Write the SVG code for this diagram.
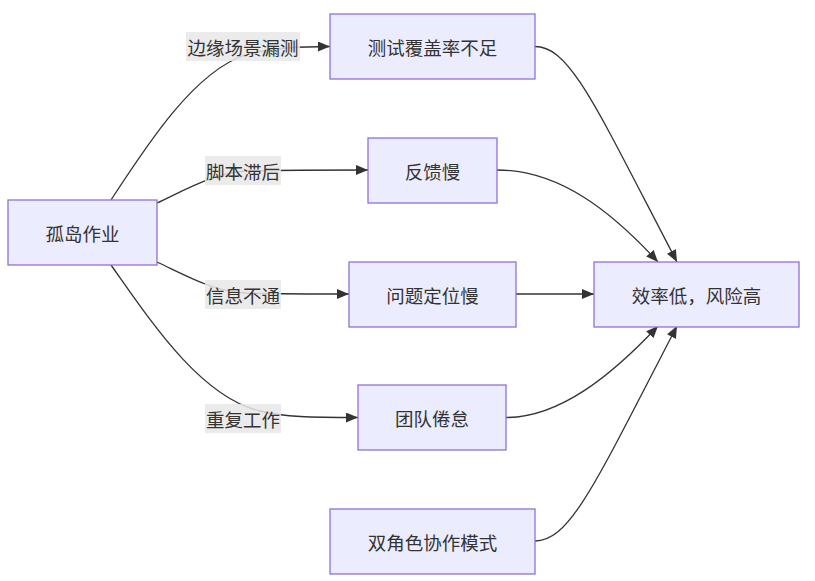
<svg xmlns="http://www.w3.org/2000/svg" width="815" height="581" viewBox="0 0 815 581">
<style>
.node rect{fill:#ECECFF;stroke:#9370DB;stroke-width:1.3}
.node text,.lbl text{font-family:"Noto Sans CJK SC","Liberation Sans",sans-serif;font-size:18.5px;fill:#333;text-anchor:middle;dominant-baseline:central}
.edge{fill:none;stroke:#333;stroke-width:1.3;marker-end:url(#arr)}
.lbl rect{fill:#e8e8e8;fill-opacity:0.85}
</style>
<defs>
<marker id="arr" viewBox="0 0 12 10" refX="12" refY="5" markerWidth="12" markerHeight="10" markerUnits="userSpaceOnUse" orient="auto">
<path d="M0,0 L12,5 L0,10 z" fill="#333"/>
</marker>
</defs>
<g id="connectors">
<path class="edge" d="M111,200 C150,140 195,72 245,55 C268,48 295,46.5 330,46.5"/>
<path class="edge" d="M157,203 C185,190 212,174 245,171 C280,170 320,170 368,170"/>
<path class="edge" d="M157,262 C185,275 212,291 245,293 C280,294 310,294 349,294"/>
<path class="edge" d="M111,265 C150,320 200,397 260,411 C285,417 310,417.5 358,417.5"/>
<path class="edge" d="M535,46.5 C570,46.5 595,105 677,262"/>
<path class="edge" d="M497,170 C560,170 612,212 658,262"/>
<path class="edge" d="M516,294 L594,294"/>
<path class="edge" d="M506,417.5 C560,417.5 612,375 658,326"/>
<path class="edge" d="M535,541 C570,541 595,484 677,326"/>
</g>
<g id="edge-labels">
<g class="lbl"><rect x="186" y="32" width="114" height="29"/><text x="243" y="46.5">边缘场景漏测</text></g>
<g class="lbl"><rect x="205" y="156" width="76" height="29"/><text x="243" y="170.5">脚本滞后</text></g>
<g class="lbl"><rect x="205" y="280" width="76" height="29"/><text x="243" y="294.5">信息不通</text></g>
<g class="lbl"><rect x="205" y="404" width="76" height="29"/><text x="243" y="418.5">重复工作</text></g>
</g>
<g id="n-gudao" class="node"><rect x="8" y="200" width="149" height="65"/><text x="82.5" y="232.5">孤岛作业</text></g>
<g id="n-ceshi" class="node"><rect x="330" y="14" width="205" height="65"/><text x="432.5" y="46.5">测试覆盖率不足</text></g>
<g id="n-fankui" class="node"><rect x="368" y="138" width="129" height="65"/><text x="432.5" y="170.5">反馈慢</text></g>
<g id="n-wenti" class="node"><rect x="349" y="262" width="167" height="65"/><text x="432.5" y="294.5">问题定位慢</text></g>
<g id="n-tuandui" class="node"><rect x="358" y="385" width="148" height="65"/><text x="432" y="417.5">团队倦怠</text></g>
<g id="n-shuang" class="node"><rect x="330" y="509" width="205" height="65"/><text x="432.5" y="541.5">双角色协作模式</text></g>
<g id="n-xiaolv" class="node"><rect x="594" y="262" width="205" height="65"/><text x="696.5" y="294.5">效率低，风险高</text></g>
</svg>
